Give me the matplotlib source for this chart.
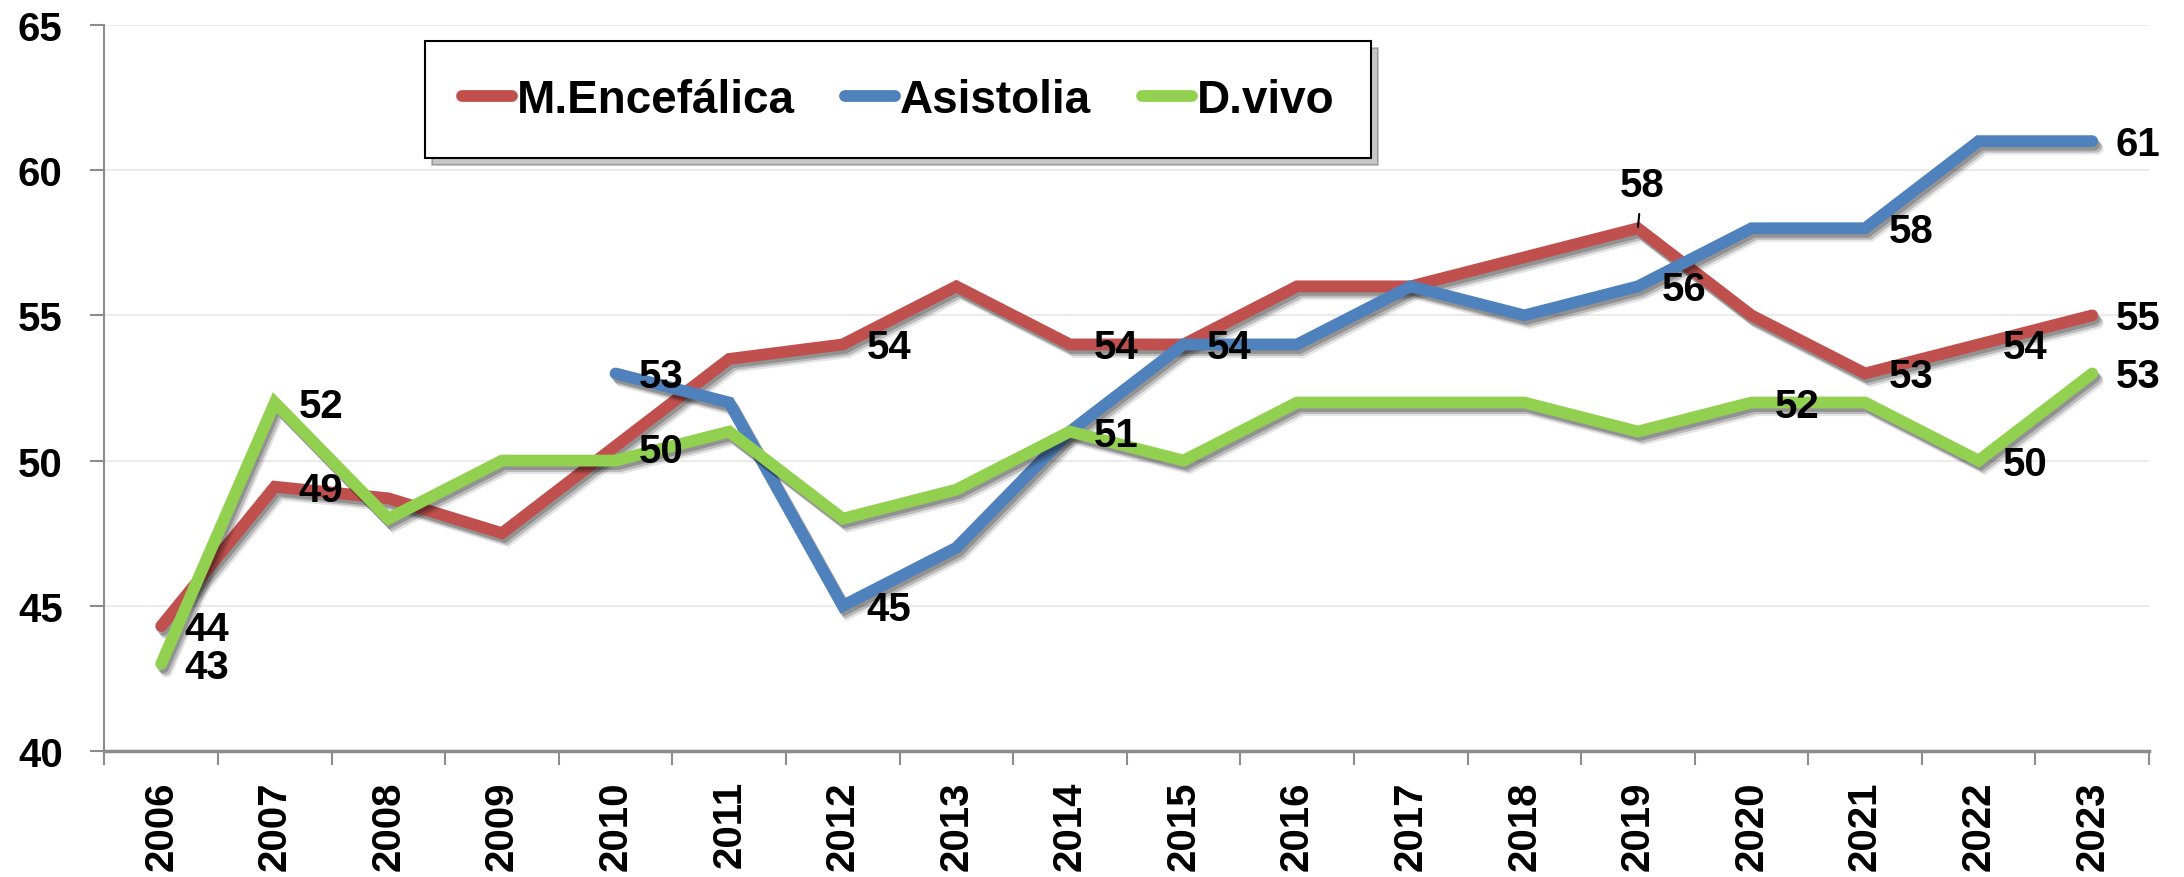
import numpy as np
import matplotlib
matplotlib.use("Agg")
import matplotlib.pyplot as plt
import matplotlib.patheffects as pe

years = [str(y) for y in range(2006, 2024)]
m_encefalica = [44.3, 49.1, 48.7, 47.5, 50.5, 53.5, 54, 56, 54, 54, 56, 56, 57, 58, 55, 53, 54, 55]
asistolia = [np.nan, np.nan, np.nan, np.nan, 53, 52, 45, 47, 51, 54, 54, 56, 55, 56, 58, 58, 61, 61]
d_vivo = [43, 52, 48, 50, 50, 51, 48, 49, 51, 50, 52, 52, 52, 51, 52, 52, 50, 53]

# years that carry a value label
labeled_me = ["2006", "2007", "2012", "2014", "2019", "2021", "2022", "2023"]
labeled_as = ["2010", "2012", "2015", "2019", "2021", "2023"]
labeled_dv = ["2006", "2007", "2010", "2014", "2020", "2022", "2023"]

y_ticks = [40, 45, 50, 55, 60, 65]

colors = {"M.Encefálica": "#C0504D", "Asistolia": "#4F81BD", "D.vivo": "#92D050"}

plt.rcParams['font.family'] = ['Liberation Sans', 'DejaVu Sans']
plt.rcParams['font.weight'] = 'bold'

fig = plt.figure(figsize=(21.84, 8.78), dpi=100)
ax = fig.add_axes([0.0478, 0.1435, 0.9362, 0.8269])

x = np.arange(len(years))
series = [("M.Encefálica", m_encefalica, labeled_me),
          ("Asistolia", asistolia, labeled_as),
          ("D.vivo", d_vivo, labeled_dv)]

# soft drop shadow under each line
shadow = [pe.SimpleLineShadow(offset=(1.5, -2.5), shadow_color='black', alpha=0.22),
          pe.SimpleLineShadow(offset=(3, -4), shadow_color='black', alpha=0.18),
          pe.SimpleLineShadow(offset=(4, -5.5), shadow_color='black', alpha=0.10),
          pe.Normal()]

for i, (name, vals, _) in enumerate(series):
    ax.plot(x, vals, color=colors[name], lw=8.5, solid_capstyle='round',
            solid_joinstyle='miter', label=name, zorder=3 + i, path_effects=shadow)

# label offsets in pixels (dx, dy); default is just right of the point
special = {("M.Encefálica", "2019"): (4, 43), ("D.vivo", "2010"): (46, 10)}
for name, vals, labeled in series:
    for yr in labeled:
        i = years.index(yr)
        v = vals[i]
        dx, dy = special.get((name, yr), (46, -3))
        arrow = None
        if (name, yr) == ("M.Encefálica", "2019"):
            arrow = dict(arrowstyle='-', color='black', lw=1.5, shrinkA=5, shrinkB=1)
        ax.annotate(f"{round(v)}", xy=(x[i], v), xytext=(dx, dy),
                    textcoords='offset pixels', ha='center', va='center',
                    fontsize=29, fontweight='bold', color='black', zorder=10,
                    arrowprops=arrow)

ax.set_xlim(-0.5, len(years) - 0.5)
ax.set_ylim(40, 65)
ax.set_yticks(y_ticks)
ax.set_yticklabels([str(t) for t in y_ticks], fontsize=29, fontweight='bold')
ax.set_xticks(x)
ax.set_xticklabels(years, rotation=90, fontsize=29, fontweight='bold', va='top')
ax.set_xticks(np.arange(-0.5, len(years)), minor=True)
ax.tick_params(axis='x', which='major', length=0, pad=21)
ax.tick_params(axis='x', which='minor', length=10, width=1.5, color='#8C8C8C')
ax.tick_params(axis='y', length=10, width=1.5, color='#8C8C8C', pad=20)

ax.grid(axis='y', color='#EBEBEB', lw=1.5, zorder=0)
ax.set_axisbelow(True)
for side in ['top', 'right']:
    ax.spines[side].set_visible(False)
ax.spines['left'].set_color('#8C8C8C')
ax.spines['left'].set_linewidth(1.5)
ax.spines['bottom'].set_color('#8C8C8C')
ax.spines['bottom'].set_linewidth(2.5)

leg = ax.legend(loc='upper left', bbox_to_anchor=(0.1568, 0.978), borderaxespad=0,
                ncol=3, fontsize=33, frameon=True, fancybox=False,
                handlelength=1.1, handletextpad=0.1, columnspacing=1.1,
                borderpad=0.8,
                shadow={'ox': 5, 'oy': -5, 'color': 'black', 'alpha': 0.22})
leg.get_frame().set_edgecolor('black')
leg.get_frame().set_linewidth(1.5)
for h in leg.get_lines():
    h.set_linewidth(8.5)
    h.set_path_effects([pe.Normal()])
for t in leg.get_texts():
    t.set_fontweight('bold')

fig.savefig('out.png', dpi=100)
